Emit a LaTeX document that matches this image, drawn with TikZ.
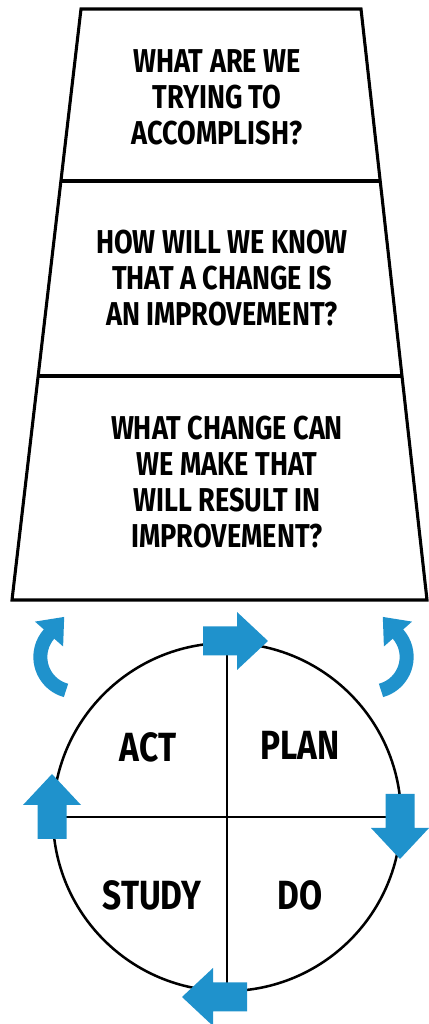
\documentclass[tikz,border=0pt]{standalone}
\usepackage{fontspec}
\setmainfont{Fira Sans}[FakeStretch=0.82]
\usetikzlibrary{calc,arrows.meta}
\definecolor{cycleblue}{RGB}{31,146,204}
\tikzset{
  question/.style={align=center, font=\bfseries\fontsize{23.5}{25.7}\selectfont},
  phase/.style={font=\bfseries\fontsize{29}{31}\selectfont},
  blockarrow/.pic={\fill[cycleblue] (-32,-14.5) -- (2,-14.5) -- (2,-29) -- (33,0) -- (2,29) -- (2,14.5) -- (-32,14.5) -- cycle;},
  turnarrow/.style={cycleblue, line width=0.35cm, -{Triangle[width=0.9cm,length=0.575cm]}},
}

\begin{document}
\begin{tikzpicture}[x=0.025cm, y=0.025cm]
    \useasboundingbox (0,0) rectangle (428,1024);
    % funnel of questions
    \coordinate (tl) at ( 81,1015);
    \coordinate (tr) at (361,1015);
    \coordinate (bl) at ( 12, 424);
    \coordinate (br) at (427, 424);
    \draw [line width=2.2pt] (tl) -- (tr) -- (br) -- (bl) -- cycle;
    \draw [line width=2.2pt] ($(tl)!0.291!(bl)$) -- ($(tr)!0.291!(br)$);
    \draw [line width=2.2pt] ($(tl)!0.621!(bl)$) -- ($(tr)!0.621!(br)$);
    \path (217,927) node [question] (aim) {WHAT ARE WE\\TRYING TO\\ACCOMPLISH?};
    \path (222,746) node [question] (measure) {HOW WILL WE KNOW\\THAT A CHANGE IS\\AN IMPROVEMENT?};
    \path (227,542) node [question] (change) {WHAT CHANGE CAN\\WE MAKE THAT\\WILL RESULT IN\\IMPROVEMENT?};
    % PDSA cycle
    \path (227,207) node [draw, circle, line width=1.8pt, minimum size=8.7cm] (cycle) {};
    \draw [line width=1.4pt] (cycle.north) -- (cycle.south);
    \draw [line width=1.4pt] (cycle.west) -- (cycle.east);
    \path (148,277) node [phase] (act) {ACT};
    \path (300,279) node [phase] (plan) {PLAN};
    \path (152,129) node [phase] (study) {STUDY};
    \path (300,129) node [phase] (do) {DO};
    \path (235,383) pic {blockarrow};
    \path (400,198) pic [rotate=-90] {blockarrow};
    \path (215, 27) pic [rotate=180] {blockarrow};
    \path ( 52,217) pic [rotate=90] {blockarrow};
    % turning arrows
    \draw [turnarrow] ( 66,333.6) arc [start angle=255, end angle=138.5, radius=34.6] -- ++(48.5:23);
    \draw [turnarrow] (381,333.6) arc [start angle=285, end angle=401.5, radius=34.6] -- ++(131.5:23);
\end{tikzpicture}
\end{document}
